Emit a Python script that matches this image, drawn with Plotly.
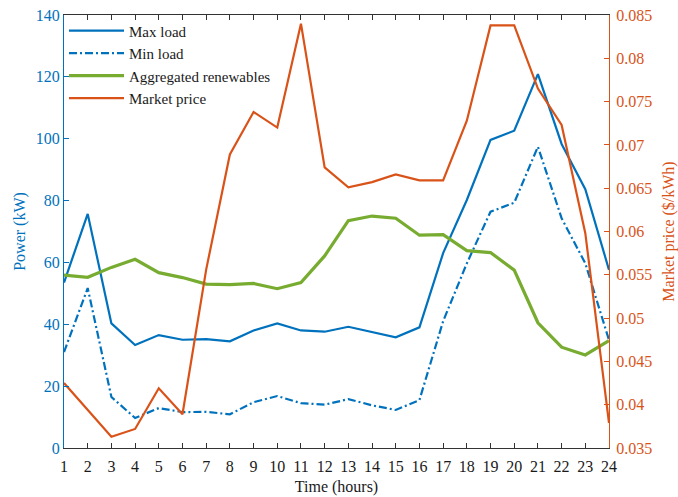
import plotly.graph_objects as go

hours = list(range(1, 25))
max_load = [53.5, 75.7, 40.3, 33.3, 36.5, 35.0, 35.2, 34.5, 38.0, 40.3, 38.0, 37.6,
            39.2, 37.6, 35.8, 39.0, 63.0, 80.2, 99.6, 102.6, 120.9, 98.3, 83.7, 57.6]
min_load = [31.0, 51.7, 16.5, 9.7, 12.9, 11.6, 11.7, 10.9, 14.8, 16.8, 14.5, 14.0,
            15.8, 13.8, 12.3, 15.5, 41.0, 59.7, 76.4, 79.3, 97.4, 74.3, 59.7, 34.9]
renewables = [55.9, 55.2, 58.4, 61.0, 56.7, 55.1, 53.0, 52.8, 53.2, 51.5, 53.5, 62.1,
              73.5, 75.0, 74.3, 68.8, 69.0, 63.8, 63.2, 57.5, 40.5, 32.6, 30.1, 34.7]
price = [0.0425, 0.0394, 0.0363, 0.0372, 0.0419, 0.0389, 0.0556, 0.0689, 0.0738, 0.0720,
         0.0840, 0.0674, 0.0651, 0.0657, 0.0666, 0.0659, 0.0659, 0.0728, 0.0838, 0.0838,
         0.0765, 0.0723, 0.0598, 0.0379]

left_ticks = [0, 20, 40, 60, 80, 100, 120, 140]
right_ticks = [0.035, 0.04, 0.045, 0.05, 0.055, 0.06, 0.065, 0.07, 0.075, 0.08, 0.085]
right_labels = ["0.035", "0.04", "0.045", "0.05", "0.055", "0.06", "0.065", "0.07",
                "0.075", "0.08", "0.085"]

BLUE = "#0072BD"
ORANGE = "#D95319"
GREEN = "#77AC30"
INK = "#1a1a1a"
FONT = "Liberation Serif"

fig = go.Figure()
fig.add_trace(go.Scatter(x=hours, y=max_load, mode="lines", name="Max load",
                         line=dict(color=BLUE, width=2.2)))
fig.add_trace(go.Scatter(x=hours, y=min_load, mode="lines", name="Min load",
                         line=dict(color=BLUE, width=2.2, dash="8px,3px,2px,3px")))
fig.add_trace(go.Scatter(x=hours, y=renewables, mode="lines", name="Aggregated renewables",
                         line=dict(color=GREEN, width=3.2)))
fig.add_trace(go.Scatter(x=hours, y=price, mode="lines", name="Market price",
                         line=dict(color=ORANGE, width=2.2), yaxis="y2"))

fig.update_layout(
    width=678, height=497,
    margin=dict(l=64, r=69, t=15, b=49, autoexpand=False),
    paper_bgcolor="white", plot_bgcolor="white",
    font=dict(family=FONT, size=16, color=INK),
    showlegend=True,
    legend=dict(x=0.0, xref="paper", y=0.971, yref="container",
                xanchor="left", yanchor="top",
                bgcolor="rgba(255,255,255,0)", borderwidth=0,
                font=dict(family=FONT, size=15, color=INK),
                tracegroupgap=0, itemwidth=55),
    xaxis=dict(range=[1, 24], tickmode="array", tickvals=hours,
               ticks="inside", ticklen=5, tickcolor="#333333",
               showline=True, linecolor="#333333", linewidth=1, mirror="ticks",
               showgrid=False, zeroline=False, ticklabelstandoff=4, automargin=False,
               tickfont=dict(family=FONT, size=16, color=INK),
               title=dict(text="Time (hours)", font=dict(family=FONT, size=16, color=INK),
                          standoff=6)),
    yaxis=dict(range=[0, 140], tickmode="array", tickvals=left_ticks,
               ticks="inside", ticklen=5, tickcolor=BLUE,
               showline=True, linecolor=BLUE, linewidth=1,
               showgrid=False, zeroline=False, automargin=False,
               tickfont=dict(family=FONT, size=16, color=BLUE),
               title=dict(text="Power (kW)", font=dict(family=FONT, size=16, color=BLUE),
                          standoff=6)),
    yaxis2=dict(range=[0.035, 0.085], tickmode="array", tickvals=right_ticks,
                ticktext=right_labels, overlaying="y", side="right",
                ticks="inside", ticklen=5, tickcolor=ORANGE,
                showline=True, linecolor=ORANGE, linewidth=1,
                showgrid=False, zeroline=False, ticklabelstandoff=3, automargin=False,
                tickfont=dict(family=FONT, size=16, color=ORANGE),
                title=dict(text="Market price ($/kWh)",
                           font=dict(family=FONT, size=16, color=ORANGE), standoff=14)),
)

fig.write_html("out.html")
